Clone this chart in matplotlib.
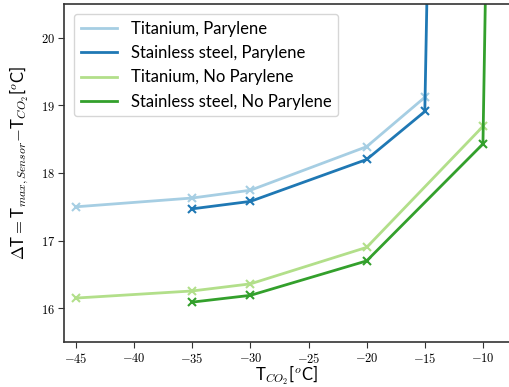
import matplotlib
matplotlib.use("Agg")
import matplotlib.pyplot as plt
from matplotlib.lines import Line2D

plt.rcParams['mathtext.fontset'] = 'cm'
plt.rcParams['font.family'] = ['Lato', 'DejaVu Sans']

x_ti_par = [-45, -35, -30, -20, -15]
y_ti_par = [17.50, 17.63, 17.745, 18.39, 19.12]
x_ss_par = [-35, -30, -20, -15, -14.5]
y_ss_par = [17.47, 17.58, 18.20, 18.91, 23.5]
x_ti_nop = [-45, -35, -30, -20, -10]
y_ti_nop = [16.15, 16.255, 16.36, 16.90, 18.69]
x_ss_nop = [-35, -30, -20, -10, -9.5]
y_ss_nop = [16.09, 16.19, 16.70, 18.43, 23.6]

labels = ["Titanium, Parylene", "Stainless steel, Parylene",
          "Titanium, No Parylene", "Stainless steel, No Parylene"]
colors = ["#a6cee3", "#1f78b4", "#b2df8a", "#33a02c"]
xticks = [-45, -40, -35, -30, -25, -20, -15, -10]
yticks = [16, 17, 18, 19, 20]

fig = plt.figure(figsize=(5.09, 3.87), dpi=100)
ax = fig.add_axes([64/509, 1-342/387, 1-64/509, (342-4)/387])

series = [(x_ti_par, y_ti_par), (x_ss_par, y_ss_par), (x_ti_nop, y_ti_nop), (x_ss_nop, y_ss_nop)]
for (xs, ys), lab, c in zip(series, labels, colors):
    ax.plot(xs, ys, color=c, lw=2, marker='x', markersize=6, markeredgewidth=1.5, label=lab)

ax.set_xlim(-46.03, -7.76)
ax.set_ylim(15.5, 20.5)
ax.set_xticks(xticks)
ax.set_xticklabels([f"${v}$" for v in xticks], fontsize=9)
ax.set_yticks(yticks)
ax.set_yticklabels([f"${v}$" for v in yticks], fontsize=9)
ax.spines['right'].set_visible(False)
for s in ['left', 'bottom', 'top']:
    ax.spines[s].set_color('#333333')
    ax.spines[s].set_linewidth(1.2)
ax.tick_params(direction='out', length=4, color='#333333', pad=2.5)

ax.set_xlabel(r"T$_{CO_2}$[$^o$C]", fontsize=12, labelpad=-1)
ax.set_ylabel(r"$\Delta$T$=$T$_{max,Sensor}$$-$T$_{CO_2}$[$^o$C]", fontsize=12)
ax.yaxis.set_label_coords(-0.075, 0.53)

handles = [Line2D([], [], color=c, lw=2) for c in colors]
leg = ax.legend(handles, labels, loc='upper left', fontsize=12, frameon=True, fancybox=True,
                edgecolor='#cccccc', borderaxespad=0.6, handlelength=2.2)

fig.savefig("out.png", dpi=100)
